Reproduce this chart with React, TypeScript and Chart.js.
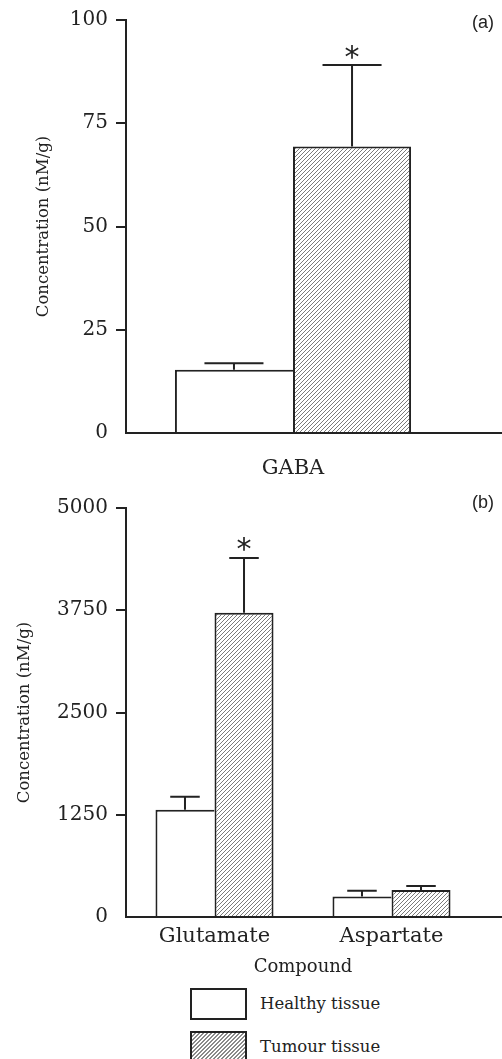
import React, { useEffect, useRef } from 'react';
import { Chart, registerables } from 'chart.js';

Chart.register(...registerables);

// ---------- data ----------
const seriesLabels = ['Healthy tissue', 'Tumour tissue'];

const gabaCategories = ['GABA'];
const gabaHealthy = [15.3];
const gabaHealthyErr = [1.6];
const gabaTumour = [69.4];
const gabaTumourErr = [19.7];
const gabaTumourSig = [true];
const gabaYTicks = [0, 25, 50, 75, 100];

const aminoCategories = ['Glutamate', 'Aspartate'];
const aminoHealthy = [1310, 250];
const aminoHealthyErr = [160, 70];
const aminoTumour = [3720, 330];
const aminoTumourErr = [670, 50];
const aminoTumourSig = [true, false];
const aminoYTicks = [0, 1250, 2500, 3750, 5000];

const yTitle = 'Concentration (nM/g)';
const xTitle = 'Compound';
const panelLabels = ['(a)', '(b)'];

// ---------- style ----------
const INK = '#222';
const SERIF = "'DejaVu Serif', serif";
const HATCH_CSS =
  'repeating-linear-gradient(135deg, #ffffff 0px, #ffffff 1.9px, #8a8a8a 1.9px, #8a8a8a 2.83px)';

function makeHatch(): CanvasPattern | string {
  const s = 4;
  const c = document.createElement('canvas');
  c.width = s;
  c.height = s;
  const g = c.getContext('2d');
  if (!g) return '#ccc';
  g.fillStyle = '#ffffff';
  g.fillRect(0, 0, s, s);
  g.strokeStyle = '#7a7a7a';
  g.lineWidth = 1;
  g.beginPath();
  g.moveTo(0, s);
  g.lineTo(s, 0);
  g.moveTo(-1, 1);
  g.lineTo(1, -1);
  g.moveTo(s - 1, s + 1);
  g.lineTo(s + 1, s - 1);
  g.stroke();
  return g.createPattern(c, 'repeat') || '#ccc';
}

const errorBarPlugin = {
  id: 'errorBars',
  afterDatasetsDraw(chart: any, _args: any, opts: any) {
    const { ctx } = chart;
    const yScale = chart.scales.y;
    chart.data.datasets.forEach((ds: any, di: number) => {
      const meta = chart.getDatasetMeta(di);
      if (meta.hidden) return;
      meta.data.forEach((el: any, i: number) => {
        const v = ds.data[i];
        const e = ds.errors ? ds.errors[i] : null;
        if (v == null || e == null) return;
        const { x, width } = el.getProps(['x', 'width'], true);
        const y0 = yScale.getPixelForValue(v);
        const y1 = yScale.getPixelForValue(v + e);
        ctx.save();
        ctx.strokeStyle = INK;
        ctx.lineWidth = 2;
        ctx.beginPath();
        ctx.moveTo(x, y0);
        ctx.lineTo(x, y1);
        ctx.moveTo(x - width / 4, y1);
        ctx.lineTo(x + width / 4, y1);
        ctx.stroke();
        if (ds.sig && ds.sig[i]) {
          ctx.font = "30px 'DejaVu Sans'";
          ctx.fillStyle = INK;
          ctx.textAlign = 'center';
          ctx.textBaseline = 'alphabetic';
          const m = ctx.measureText('*');
          const cy = y1 - ((opts && opts.starGap) || 13.5);
          ctx.fillText('*', x, cy + (m.actualBoundingBoxAscent - m.actualBoundingBoxDescent) / 2);
        }
        ctx.restore();
      });
    });
  },
};

const axisExtendPlugin = {
  id: 'axisExtend',
  afterDraw(chart: any) {
    const { ctx, chartArea } = chart;
    const y = Math.round(chart.scales.x.top - 1) + 1;
    ctx.save();
    ctx.strokeStyle = INK;
    ctx.lineWidth = 2;
    ctx.beginPath();
    ctx.moveTo(chartArea.right - 1, y);
    ctx.lineTo(chart.width, y);
    ctx.stroke();
    ctx.restore();
  },
};

const panelLabelPlugin = {
  id: 'panelLabel',
  afterDraw(chart: any, _args: any, opts: any) {
    if (!opts || !opts.text) return;
    const { ctx } = chart;
    ctx.save();
    ctx.font = "18px 'Liberation Sans', Arial, sans-serif";
    ctx.fillStyle = INK;
    ctx.textAlign = 'center';
    ctx.textBaseline = 'middle';
    ctx.fillText(opts.text, opts.x, opts.y);
    ctx.restore();
  },
};

function buildConfig(p: {
  categories: string[];
  healthy: number[];
  healthyErr: number[];
  tumour: number[];
  tumourErr: number[];
  tumourSig: boolean[];
  yTicks: number[];
  hatch: any;
  catPct: number;
  padTop: number;
  padRight: number;
  xHeight: number;
  xPad: number;
  xTitle?: string;
  yTitlePad: number;
  panel: { text: string; x: number; y: number };
}) {
  const yMin = p.yTicks[0];
  const yMax = p.yTicks[p.yTicks.length - 1];
  return {
    type: 'bar',
    data: {
      labels: p.categories,
      datasets: [
        {
          label: seriesLabels[0],
          data: p.healthy,
          errors: p.healthyErr,
          backgroundColor: '#ffffff',
          borderColor: INK,
          borderWidth: { top: 2, left: 2, right: 0, bottom: 0 },
          borderSkipped: false,
        },
        {
          label: seriesLabels[1],
          data: p.tumour,
          errors: p.tumourErr,
          sig: p.tumourSig,
          backgroundColor: p.hatch,
          borderColor: INK,
          borderWidth: { top: 2, left: 2, right: 2, bottom: 0 },
          borderSkipped: false,
        },
      ],
    },
    options: {
      responsive: false,
      animation: false,
      devicePixelRatio: 1,
      layout: { padding: { top: p.padTop, right: p.padRight, left: 0, bottom: 0 } },
      datasets: { bar: { categoryPercentage: p.catPct, barPercentage: 1 } },
      plugins: {
        legend: { display: false },
        tooltip: { enabled: false },
        panelLabel: p.panel,
        errorBars: { starGap: 13.5 },
      },
      scales: {
        x: {
          type: 'category',
          z: 1,
          grid: { display: false },
          border: { display: true, color: INK, width: 2 },
          ticks: {
            font: { family: SERIF, size: 21 },
            color: INK,
            padding: p.xPad,
            maxRotation: 0,
            autoSkip: false,
          },
          title: p.xTitle
            ? {
                display: true,
                text: p.xTitle,
                color: INK,
                font: { family: SERIF, size: 18 },
                padding: { top: 8, bottom: 0 },
              }
            : { display: false },
          afterFit: (s: any) => {
            s.height = p.xHeight;
          },
        },
        y: {
          min: yMin,
          max: yMax,
          grid: {
            display: true,
            drawOnChartArea: false,
            drawTicks: true,
            tickLength: 10,
            lineWidth: 2,
            color: (c: any) => (c.tick && c.tick.value === yMin ? 'rgba(0,0,0,0)' : INK),
          },
          border: { display: true, color: INK, width: 2 },
          ticks: {
            font: { family: SERIF, size: 20 },
            color: INK,
            padding: 8,
            callback: (v: any) => String(v),
          },
          afterBuildTicks: (s: any) => {
            s.ticks = p.yTicks.map((v) => ({ value: v }));
          },
          title: {
            display: true,
            text: yTitle,
            color: INK,
            font: { family: SERIF, size: 16.5 },
            padding: { top: p.yTitlePad, bottom: 0 },
          },
          afterFit: (s: any) => {
            s.width = 126;
          },
        },
      },
    },
    plugins: [errorBarPlugin, axisExtendPlugin, panelLabelPlugin],
  } as any;
}

export default function App() {
  const topRef = useRef<HTMLCanvasElement>(null);
  const botRef = useRef<HTMLCanvasElement>(null);

  useEffect(() => {
    if (!topRef.current || !botRef.current) return;
    const hatch = makeHatch();
    const top = new Chart(
      topRef.current,
      buildConfig({
        categories: gabaCategories,
        healthy: gabaHealthy,
        healthyErr: gabaHealthyErr,
        tumour: gabaTumour,
        tumourErr: gabaTumourErr,
        tumourSig: gabaTumourSig,
        yTicks: gabaYTicks,
        hatch,
        catPct: 0.707,
        padTop: 16,
        padRight: 42,
        xHeight: 55,
        xPad: 15,
        yTitlePad: 34,
        panel: { text: panelLabels[0], x: 483, y: 23 },
      })
    );
    const bot = new Chart(
      botRef.current,
      buildConfig({
        categories: aminoCategories,
        healthy: aminoHealthy,
        healthyErr: aminoHealthyErr,
        tumour: aminoTumour,
        tumourErr: aminoTumourErr,
        tumourSig: aminoTumourSig,
        yTicks: aminoYTicks,
        hatch,
        catPct: 0.667,
        padTop: 12,
        padRight: 22,
        xHeight: 61,
        xPad: -1,
        xTitle,
        yTitlePad: 15,
        panel: { text: panelLabels[1], x: 483, y: 15 },
      })
    );
    return () => {
      top.destroy();
      bot.destroy();
    };
  }, []);

  return (
    <div
      style={{
        position: 'absolute',
        left: 0,
        top: 0,
        width: 502,
        height: 1059,
        overflow: 'hidden',
        background: '#fff',
      }}
    >
      <canvas ref={topRef} width={502} height={488} style={{ display: 'block' }} />
      <canvas ref={botRef} width={502} height={490} style={{ display: 'block' }} />
      <div style={{ marginTop: 10, marginLeft: 190 }}>
        {seriesLabels.map((l, i) => (
          <div
            key={l}
            style={{ display: 'flex', alignItems: 'center', height: 32, marginBottom: 11 }}
          >
            <div
              style={{
                width: 57,
                height: 32,
                boxSizing: 'border-box',
                border: `2px solid ${INK}`,
                background: i === 1 ? HATCH_CSS : '#fff',
              }}
            />
            <span
              style={{
                marginLeft: 13,
                fontFamily: SERIF,
                fontSize: 16.5,
                color: INK,
                lineHeight: '32px',
              }}
            >
              {l}
            </span>
          </div>
        ))}
      </div>
    </div>
  );
}
